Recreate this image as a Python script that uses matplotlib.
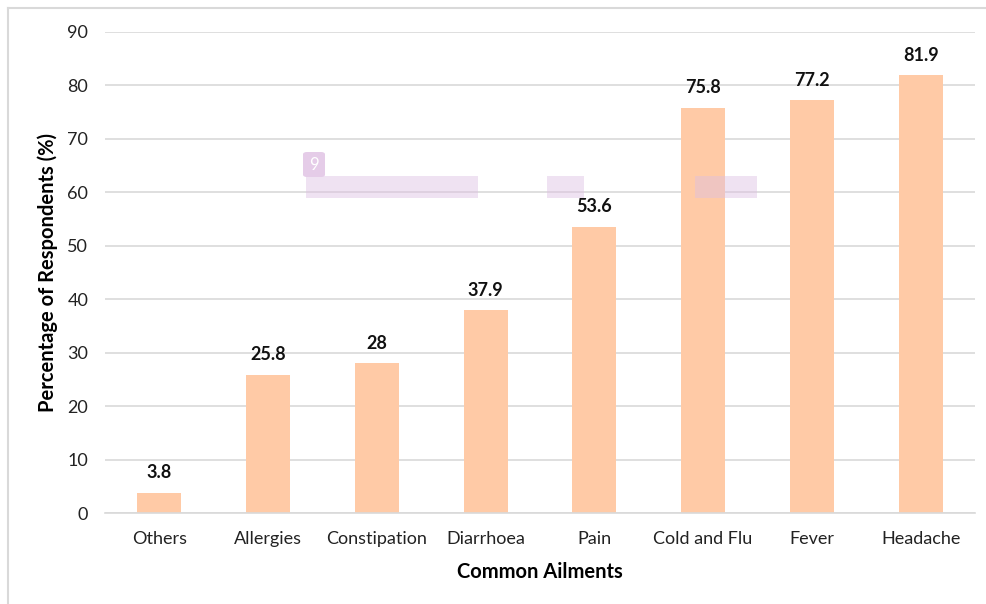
import matplotlib.pyplot as plt
from matplotlib.patches import Rectangle, FancyBboxPatch

ailments = ["Others", "Allergies", "Constipation", "Diarrhoea", "Pain",
            "Cold and Flu", "Fever", "Headache"]
percent = [3.8, 25.8, 28, 37.9, 53.6, 75.8, 77.2, 81.9]
value_labels = ["3.8", "25.8", "28", "37.9", "53.6", "75.8", "77.2", "81.9"]
y_ticks = [0, 10, 20, 30, 40, 50, 60, 70, 80, 90]

plt.rcParams['font.family'] = ['Lato', 'DejaVu Sans']

W, H = 987, 604
fig = plt.figure(figsize=(W / 100, H / 100), dpi=100)
ax = fig.add_axes([105 / W, 1 - 513 / H, 870 / W, 481 / H])

x = range(len(ailments))
bars = ax.bar(x, percent, width=0.405, color='#FFCAA6', zorder=2)
for b, lab in zip(bars, value_labels):
    ax.text(b.get_x() + b.get_width() / 2, b.get_height() + 2.2, lab,
            ha='center', va='bottom', fontsize=13, fontweight='bold', color='#111111')

ax.set_xlim(-0.5, len(ailments) - 0.5)
ax.set_ylim(0, 90)
ax.set_yticks(y_ticks)
ax.set_xticks(list(x))
ax.set_xticklabels(ailments)
ax.yaxis.grid(True, color='#D9D9D9', linewidth=1.2, zorder=0)
ax.set_axisbelow(True)
for s in ['top', 'right', 'left']:
    ax.spines[s].set_visible(False)
ax.spines['bottom'].set_color('#D9D9D9')
ax.spines['bottom'].set_linewidth(1.2)
ax.tick_params(length=0, labelsize=13, colors='#222222')
ax.tick_params(axis='x', pad=13)
ax.tick_params(axis='y', pad=12)

ax.set_ylabel("Percentage of Respondents (%)", fontsize=14.5, fontweight='bold', labelpad=7)
ax.set_xlabel("Common Ailments", fontsize=14.5, fontweight='bold', labelpad=11)

# outer border of the chart frame
fig.add_artist(plt.Line2D([8 / W, 8 / W], [0, 1 - 8 / H], transform=fig.transFigure,
                          color='#D9D9D9', linewidth=1.5))
fig.add_artist(plt.Line2D([8 / W, 1], [1 - 8 / H, 1 - 8 / H], transform=fig.transFigure,
                          color='#D9D9D9', linewidth=1.5))

# translucent purple overlay marks seen in the screenshot
for x0, x1 in [(306, 478), (547, 584), (695, 757)]:
    fig.add_artist(Rectangle((x0 / W, 1 - 198 / H), (x1 - x0) / W, 22 / H,
                             transform=fig.transFigure, facecolor='#DDBFE3',
                             alpha=0.45, edgecolor='none', zorder=5))
fig.add_artist(FancyBboxPatch((303 / W, 1 - 177 / H), 22 / W, 25 / H,
                              boxstyle='round,pad=0,rounding_size=0.004',
                              transform=fig.transFigure, facecolor='#E5CCE8',
                              edgecolor='none', zorder=5))
fig.text(314 / W, 1 - 165 / H, "9", ha='center', va='center', fontsize=12,
         color='white', zorder=6)

fig.savefig("out.png", dpi=100)
